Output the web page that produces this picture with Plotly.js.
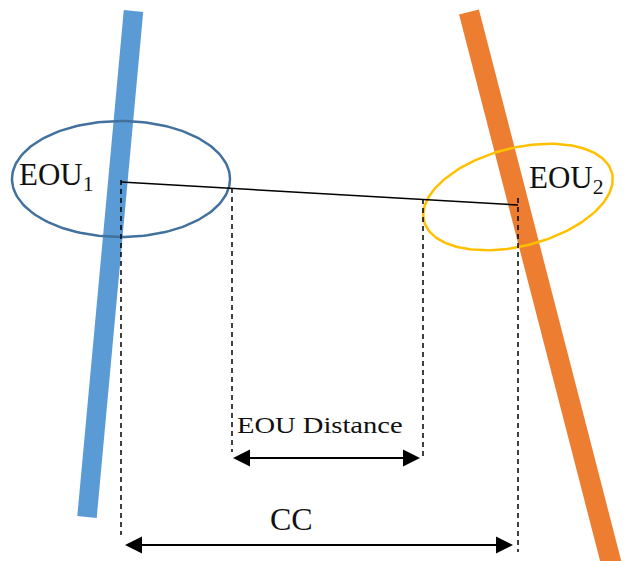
<!DOCTYPE html>
<html>
<head>
<meta charset="utf-8">
<script src="https://cdn.plot.ly/plotly-3.0.1.min.js"></script>
<style>html,body{margin:0;padding:0;background:#fff;}#chart{width:625px;height:561px;}</style>
</head>
<body>
<div id="chart"></div>
<script>
// ---- Diagram geometry (pixel-like units of the reference) ----
const barColors = ['#5B9BD5', '#ED7D31'];
const barTopX = [133.5, 469];
const barTopY = [11, 12];
const barBotX = [87, 613];
const barBotY = [517, 570];
const barWidth = [19.5, 20.5];

const ellColors = ['#41719C', '#FFC000'];
const ellCx = [121, 518];
const ellCy = [179, 197];
const ellRx = [109, 97];
const ellRy = [58, 49];
const ellTiltDeg = [0, 14.4];

const connX = [121, 518];
const connY = [182, 205];

const dashX = [121, 232, 423, 518];
const dashTop = [180, 188, 199, 198];
const dashBottom = [535, 452, 457, 552];

const arrowY = [458, 545];
const arrowX0 = [233, 125];
const arrowX1 = [420, 513];

const labelText = ['EOU<sub>1</sub>', 'EOU<sub>2</sub>', 'EOU Distance', 'CC'];
const labelX = [19, 529, 237, 270];
const labelY = [177, 180, 427, 522];
const labelSize = [31, 31, 24, 32];
const labelStretch = [1, 1, 1.19, 1];

// ---- Build traces ----
const traces = [];
for (let i = 0; i < barColors.length; i++) {
  const dx = barBotX[i] - barTopX[i], dy = barBotY[i] - barTopY[i];
  const L = Math.hypot(dx, dy);
  const px = -dy / L * barWidth[i] / 2, py = dx / L * barWidth[i] / 2;
  traces.push({
    x: [barTopX[i] + px, barTopX[i] - px, barBotX[i] - px, barBotX[i] + px, barTopX[i] + px],
    y: [barTopY[i] + py, barTopY[i] - py, barBotY[i] - py, barBotY[i] + py, barTopY[i] + py],
    mode: 'lines', fill: 'toself', fillcolor: barColors[i],
    line: {width: 0, color: barColors[i]}, hoverinfo: 'skip'
  });
}
for (let i = 0; i < ellColors.length; i++) {
  const xs = [], ys = [];
  const th = ellTiltDeg[i] * Math.PI / 180;
  for (let k = 0; k <= 180; k++) {
    const t = k / 180 * 2 * Math.PI;
    const a = ellRx[i] * Math.cos(t), b = ellRy[i] * Math.sin(t);
    xs.push(ellCx[i] + a * Math.cos(th) - b * Math.sin(th));
    ys.push(ellCy[i] - (a * Math.sin(th) + b * Math.cos(th)));
  }
  traces.push({x: xs, y: ys, mode: 'lines', line: {color: ellColors[i], width: 2.5}, hoverinfo: 'skip'});
}
traces.push({x: connX, y: connY, mode: 'lines', line: {color: '#000', width: 1.5}, hoverinfo: 'skip'});
for (let i = 0; i < dashX.length; i++) {
  traces.push({x: [dashX[i], dashX[i]], y: [dashTop[i], dashBottom[i]], mode: 'lines',
    line: {color: '#000', width: 1.5, dash: '5px,4px'}, hoverinfo: 'skip'});
}
const headLen = 17, headHalf = 8.5;
for (let i = 0; i < arrowY.length; i++) {
  const y = arrowY[i], a = arrowX0[i], b = arrowX1[i];
  traces.push({x: [a + headLen - 2, b - headLen + 2], y: [y, y], mode: 'lines',
    line: {color: '#000', width: 2.2}, hoverinfo: 'skip'});
  traces.push({x: [a, a + headLen, a + headLen, a], y: [y, y - headHalf, y + headHalf, y],
    mode: 'lines', fill: 'toself', fillcolor: '#000', line: {width: 0, color: '#000'}, hoverinfo: 'skip'});
  traces.push({x: [b, b - headLen, b - headLen, b], y: [y, y - headHalf, y + headHalf, y],
    mode: 'lines', fill: 'toself', fillcolor: '#000', line: {width: 0, color: '#000'}, hoverinfo: 'skip'});
}

// labels as a text trace
traces.push({
  x: labelX, y: labelY, text: labelText, mode: 'text',
  textposition: 'middle right', hoverinfo: 'skip', cliponaxis: false,
  textfont: {family: 'Liberation Serif, Times New Roman, serif', size: labelSize, color: '#111'}
});

const layout = {
  width: 625, height: 561,
  margin: {l: 0, r: 0, t: 0, b: 0},
  paper_bgcolor: '#fff', plot_bgcolor: '#fff',
  showlegend: false,
  xaxis: {range: [0, 625], visible: false, fixedrange: true},
  yaxis: {range: [561, 0], visible: false, fixedrange: true}
};
Plotly.newPlot('chart', traces, layout, {displayModeBar: false}).then(function (gd) {
  const texts = gd.querySelectorAll('.textpoint text');
  texts.forEach(function (txt, idx) {
    txt.setAttribute('font-size', labelSize[idx]);
    const s = labelStretch[idx];
    if (!s || s === 1) return;
    txt.style.transformBox = 'fill-box';
    txt.style.transformOrigin = 'left center';
    txt.style.transform = 'scaleX(' + s + ')';
  });
});
</script>
</body>
</html>
